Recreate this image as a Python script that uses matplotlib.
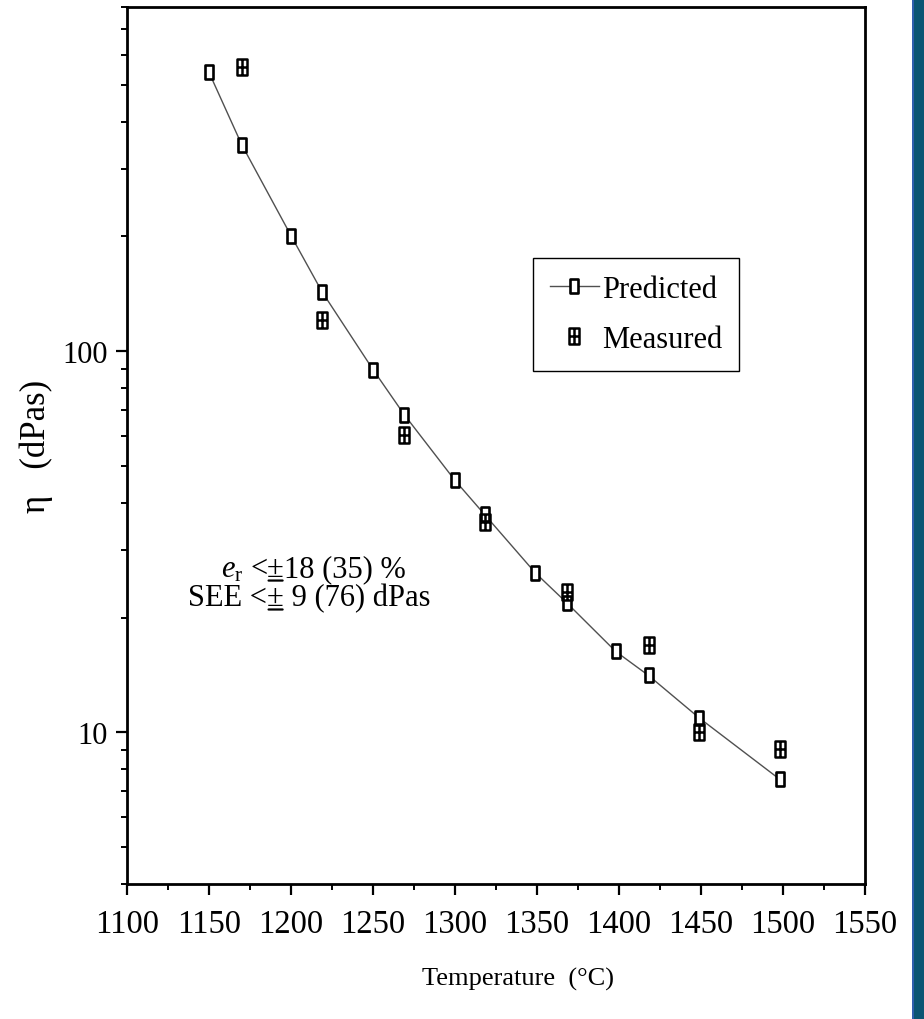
import numpy as np
import matplotlib
matplotlib.use("Agg")
import matplotlib.pyplot as plt
from matplotlib.path import Path
from matplotlib.patches import Rectangle

plt.rcParams["font.family"] = ["Liberation Serif", "DejaVu Serif"]
plt.rcParams["mathtext.fontset"] = "custom"
plt.rcParams["mathtext.rm"] = "Liberation Serif"
plt.rcParams["mathtext.it"] = "Liberation Serif:italic"

# ── Data ──────────────────────────────────────────────────────────────────────
pred_T = [1150, 1170, 1200, 1219, 1250, 1269, 1300, 1318, 1349, 1368, 1398, 1418, 1449, 1498]
pred_eta = [539, 348, 201, 143, 89.5, 68.2, 45.8, 37.3, 26.2, 21.9, 16.3, 14.1, 10.9, 7.53]
meas_T = [1170, 1219, 1269, 1318, 1368, 1418, 1449, 1498]
meas_eta = [558, 120.6, 60.1, 35.6, 23.3, 16.9, 10.0, 9.06]

x_ticks = [1100, 1150, 1200, 1250, 1300, 1350, 1400, 1450, 1500, 1550]

# tall open rectangle for predicted, rectangle with a cross for measured
rect = Path([(-0.28, -0.5), (0.28, -0.5), (0.28, 0.5), (-0.28, 0.5), (-0.28, -0.5)],
            [Path.MOVETO, Path.LINETO, Path.LINETO, Path.LINETO, Path.CLOSEPOLY])
crossed = Path(
    [(-0.3, -0.5), (0.3, -0.5), (0.3, 0.5), (-0.3, 0.5), (-0.3, -0.5),
     (0, -0.5), (0, 0.5), (-0.3, 0), (0.3, 0)],
    [Path.MOVETO, Path.LINETO, Path.LINETO, Path.LINETO, Path.CLOSEPOLY,
     Path.MOVETO, Path.LINETO, Path.MOVETO, Path.LINETO])

fig = plt.figure(figsize=(9.24, 10.2), dpi=100)
ax = fig.add_axes([127 / 924, 1 - 885 / 1020, 738 / 924, 877 / 1020])

ax.plot(pred_T, pred_eta, color="#505050", lw=1.0, marker=rect, ms=10,
        mfc="white", mec="black", mew=1.9, label="Predicted", zorder=3)
ax.plot(meas_T, meas_eta, ls="none", marker=crossed, ms=11.5,
        mfc="none", mec="black", mew=1.8, label="Measured", zorder=4)

ax.set_yscale("log")
ax.set_xlim(1100, 1550)
ax.set_ylim(4, 800)
ax.set_xticks(x_ticks)
ax.set_xticks(np.array(x_ticks[:-1]) + 25, minor=True)
ax.set_yticks([10, 100])
ax.set_yticklabels(["10", "100"])
ax.yaxis.set_minor_locator(matplotlib.ticker.LogLocator(base=10, subs=np.arange(2, 10)))
ax.yaxis.set_minor_formatter(matplotlib.ticker.NullFormatter())

for s in ax.spines.values():
    s.set_linewidth(2.0)
ax.tick_params(which="major", direction="out", length=8, width=1.6, pad=6)
ax.tick_params(which="minor", direction="out", length=4.5, width=1.4)
ax.tick_params(axis="x", which="major", labelsize=23.5, pad=10)
ax.tick_params(axis="y", which="major", labelsize=22)

ax.set_xlabel("Temperature  (°C)", fontsize=19)
ax.xaxis.set_label_coords(0.53, -0.095)
ax.set_ylabel("η   (dPas)", fontsize=25)
ax.yaxis.set_label_coords(-0.100, 0.5)

leg = ax.legend(loc="upper left", bbox_to_anchor=(0.550, 0.714), fontsize=22,
                numpoints=1, handlelength=1.6, handletextpad=0.12,
                fancybox=False, edgecolor="black", framealpha=1,
                borderpad=0.55, labelspacing=0.7, borderaxespad=0)
leg.get_frame().set_linewidth(1.0)

# error note: each "±" is underlined, the pieces are chained one after another
def note(prefix, suffix, y):
    t1 = ax.text(0.19, y, prefix, transform=ax.transAxes, ha="right",
                 va="baseline", fontsize=22)
    t2 = ax.annotate("±", xy=(1, y), xycoords=(t1, "axes fraction"),
                     ha="left", va="baseline", fontsize=22)
    ax.annotate(suffix, xy=(1, y), xycoords=(t2, "axes fraction"),
                ha="left", va="baseline", fontsize=22)
    ax.annotate("", xy=(0.08, y - 0.005), xycoords=(t2, "axes fraction"),
                xytext=(0.92, y - 0.005), textcoords=(t2, "axes fraction"),
                arrowprops=dict(arrowstyle="-", lw=1.6, color="black",
                                shrinkA=0, shrinkB=0))

note(r"$e_{\mathrm{r}}$ <", "18 (35) %", 0.351)
note("SEE <", " 9 (76) dPas", 0.318)

# dark side bar on the right edge
fig.add_artist(Rectangle((913 / 924, 0), 11 / 924, 1, transform=fig.transFigure,
                         color="#0b5573", lw=0))
fig.add_artist(Rectangle((912 / 924, 0), 2 / 924, 1, transform=fig.transFigure,
                         color="#2f5fae", lw=0))

fig.savefig("out.png", dpi=100)
